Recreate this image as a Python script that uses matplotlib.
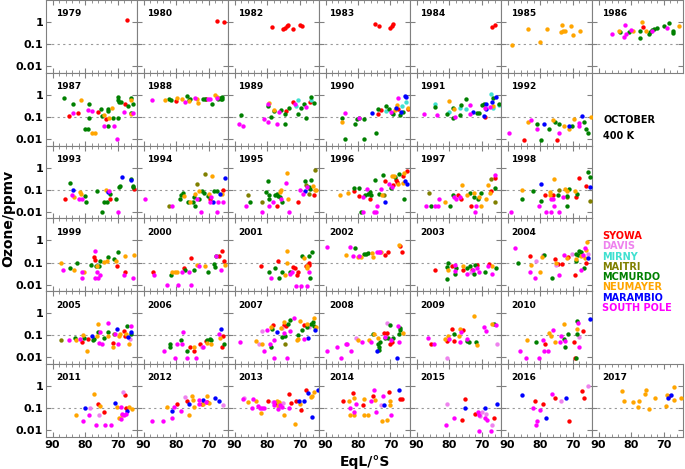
import matplotlib
matplotlib.use('Agg')
import matplotlib.pyplot as plt
from matplotlib.ticker import MultipleLocator, LogLocator, NullFormatter

plt.rcParams['font.family'] = 'DejaVu Sans'
plt.rcParams['font.weight'] = 'bold'

STATIONS = ['SYOWA', 'DAVIS', 'MIRNY', 'MAITRI', 'MCMURDO', 'NEUMAYER', 'MARAMBIO', 'SOUTH POLE']
CODES = ['S', 'D', 'M', 'I', 'C', 'N', 'B', 'P']
COLORS = ['#ff0000', '#ee82ee', '#40e0d0', '#808000', '#008000', '#ffa500', '#0000ff', '#ff00ff']

# (station code, EqL in degrees S, ozone ppmv) per October
P1979 = [('S', 67.0, 1.19)]
P1980 = [('S', 67.4, 1.1), ('S', 65.1, 0.97)]
P1982 = [('S', 78.6, 0.57), ('S', 75.2, 0.46), ('S', 74.5, 0.53), ('S', 74.0, 0.63), ('S', 73.4, 0.76),
         ('S', 71.9, 0.51), ('S', 69.7, 0.73), ('S', 69.3, 0.63)]
P1983 = [('S', 74.9, 0.84), ('S', 73.5, 0.63), ('S', 70.0, 0.55), ('S', 69.6, 0.68), ('S', 69.3, 0.78)]
P1984 = [('S', 66.8, 0.57), ('S', 65.7, 0.76)]
P1985 = [('N', 88.5, 0.09), ('N', 83.6, 0.46), ('N', 80.1, 0.12), ('N', 77.7, 0.46), ('N', 73.2, 0.70),
         ('N', 73.4, 0.34), ('N', 72.8, 0.39), ('N', 72.2, 0.38), ('N', 70.6, 0.63), ('N', 69.8, 0.27),
         ('N', 67.7, 0.40)]
P1986 = [('P', 85.8, 0.28), ('C', 83.4, 0.34), ('N', 83.8, 0.39), ('P', 81.7, 0.76), ('P', 82.3, 0.20),
         ('P', 81.6, 0.30), ('C', 80.5, 0.36), ('P', 80.1, 0.45), ('N', 79.3, 0.39), ('C', 77.2, 0.40),
         ('N', 76.7, 1.0), ('S', 76.4, 0.59), ('N', 75.5, 0.39), ('C', 77.1, 0.18), ('C', 74.5, 0.28),
         ('C', 74.1, 0.36), ('C', 73.5, 0.45), ('C', 72.9, 0.50), ('C', 72.1, 0.55), ('P', 73.6, 0.39),
         ('P', 68.9, 0.52), ('C', 69.8, 0.68), ('C', 68.4, 0.87), ('C', 67.1, 0.39), ('C', 67.1, 0.32),
         ('N', 65.2, 0.68)]
P1987 = [('C', 86.6, 0.74), ('S', 84.9, 0.105), ('C', 83.8, 0.37), ('P', 83.6, 0.15), ('S', 82.3, 0.15),
         ('N', 81.2, 0.58), ('C', 80.0, 0.029), ('C', 79.2, 0.029), ('P', 79.2, 0.20), ('C', 78.7, 0.37),
         ('C', 78.7, 0.089), ('P', 77.8, 0.18), ('N', 77.8, 0.019), ('N', 77.0, 0.019), ('C', 75.2, 0.22),
         ('S', 75.9, 0.17), ('N', 74.3, 0.12), ('C', 74.9, 0.11), ('P', 74.3, 0.039), ('S', 73.5, 0.08),
         ('C', 73.0, 0.22), ('C', 72.8, 0.18), ('N', 72.5, 0.09), ('C', 72.8, 0.039), ('N', 71.6, 0.25),
         ('C', 71.4, 0.089), ('P', 71.0, 0.039), ('P', 70.1, 0.0095), ('C', 69.9, 0.77), ('C', 69.8, 0.56),
         ('C', 69.9, 0.09), ('C', 69.5, 0.47), ('C', 69.0, 0.47), ('S', 67.7, 0.38), ('P', 68.0, 0.17),
         ('C', 66.8, 0.30), ('C', 65.9, 0.72), ('N', 65.8, 0.56), ('C', 65.2, 0.40), ('P', 65.2, 0.15),
         ('N', 65.8, 0.13), ('C', 65.7, 0.15)]
P1988 = [('P', 87.4, 0.60), ('N', 83.3, 0.60), ('C', 82.2, 0.62), ('C', 81.5, 0.58), ('S', 80.0, 0.51),
         ('N', 79.7, 0.74), ('C', 76.5, 0.85), ('N', 78.1, 0.65), ('P', 77.1, 0.46), ('C', 76.1, 0.56),
         ('C', 75.7, 0.62), ('N', 75.9, 0.51), ('P', 74.1, 0.74), ('N', 73.6, 0.65), ('N', 73.2, 0.44),
         ('C', 71.8, 0.62), ('C', 71.2, 0.62), ('S', 70.8, 0.62), ('P', 70.3, 0.62), ('P', 69.6, 0.62),
         ('C', 68.9, 0.37), ('N', 68.0, 0.95), ('P', 67.5, 0.72), ('N', 67.3, 0.80), ('C', 67.0, 0.62),
         ('C', 66.6, 0.72), ('C', 66.1, 0.62), ('C', 65.7, 0.80), ('C', 65.7, 0.62)]
P1989 = [('C', 88.1, 0.117), ('P', 88.5, 0.049), ('P', 87.5, 0.039), ('P', 80.8, 0.08), ('P', 79.6, 0.06),
         ('C', 79.8, 0.30), ('P', 79.8, 0.38), ('N', 79.3, 0.44), ('C', 78.8, 0.098), ('N', 78.0, 0.20),
         ('C', 77.9, 0.18), ('P', 76.9, 0.049), ('P', 76.3, 0.16), ('C', 75.6, 0.20), ('C', 74.5, 0.135),
         ('C', 74.6, 0.049), ('S', 74.3, 0.18), ('C', 73.1, 0.25), ('S', 72.0, 0.47), ('P', 71.5, 0.39),
         ('M', 71.0, 0.31), ('M', 70.4, 0.58), ('C', 70.4, 0.14), ('C', 69.5, 0.25), ('C', 68.5, 0.39),
         ('P', 67.9, 0.28), ('C', 67.9, 0.088), ('C', 66.6, 0.80), ('S', 66.7, 0.49), ('M', 66.4, 0.60),
         ('C', 65.5, 0.41)]
P1990 = [('P', 83.9, 0.15), ('N', 85.0, 0.06), ('C', 84.8, 0.088), ('C', 83.9, 0.0098), ('C', 80.9, 0.049),
         ('C', 80.4, 0.08), ('C', 79.8, 0.088), ('P', 79.8, 0.094), ('C', 78.1, 0.0098), ('C', 78.3, 0.083),
         ('B', 75.6, 0.15), ('C', 74.6, 0.019), ('S', 73.9, 0.14), ('C', 73.9, 0.24), ('S', 73.0, 0.20),
         ('M', 71.5, 0.18), ('C', 71.5, 0.32), ('C', 70.4, 0.24), ('P', 69.7, 0.17), ('C', 69.6, 0.15),
         ('C', 69.1, 0.13), ('N', 68.5, 0.20), ('N', 68.1, 0.36), ('B', 68.4, 0.25), ('S', 67.6, 0.22),
         ('P', 67.8, 0.70), ('C', 67.0, 0.117), ('B', 66.7, 0.17), ('C', 66.1, 0.17), ('M', 66.4, 0.32),
         ('M', 65.1, 0.49), ('B', 65.6, 0.92), ('B', 65.1, 0.80), ('S', 64.7, 0.22), ('N', 64.7, 0.26)]
P1991 = [('P', 87.7, 0.14), ('P', 83.7, 0.117), ('M', 84.2, 0.40), ('C', 84.3, 0.27), ('N', 79.9, 0.51),
         ('C', 80.6, 0.14), ('M', 80.1, 0.17), ('C', 78.7, 0.26), ('N', 78.6, 0.22), ('C', 78.8, 0.09),
         ('P', 78.1, 0.096), ('M', 76.7, 0.26), ('C', 76.4, 0.34), ('C', 76.5, 0.117), ('M', 74.9, 0.24),
         ('C', 74.7, 0.62), ('P', 73.5, 0.35), ('P', 73.5, 0.13), ('B', 72.6, 0.16), ('C', 71.3, 0.155),
         ('C', 70.9, 0.155), ('C', 69.7, 0.34), ('P', 69.0, 0.26), ('C', 69.1, 0.37), ('B', 68.7, 0.40),
         ('B', 68.5, 0.23), ('B', 69.2, 0.11), ('S', 68.9, 0.096), ('M', 67.2, 1.15), ('C', 66.6, 0.69),
         ('B', 66.8, 0.46), ('N', 66.5, 0.30), ('P', 67.4, 0.28), ('M', 66.4, 0.26), ('B', 65.5, 0.79),
         ('M', 64.6, 0.34), ('C', 64.7, 0.38)]
P1992 = [('P', 89.6, 0.019), ('N', 83.6, 0.06), ('P', 82.9, 0.073), ('S', 84.8, 0.0092), ('C', 80.9, 0.049),
         ('P', 80.9, 0.029), ('C', 79.6, 0.0092), ('B', 78.9, 0.049), ('C', 77.1, 0.029), ('N', 75.9, 0.073),
         ('C', 75.4, 0.06), ('S', 74.8, 0.0092), ('P', 74.3, 0.019), ('C', 74.2, 0.049), ('N', 72.5, 0.039),
         ('N', 71.0, 0.029), ('B', 71.0, 0.039), ('C', 70.2, 0.039), ('N', 69.5, 0.08), ('P', 68.1, 0.052),
         ('P', 68.0, 0.039), ('B', 67.2, 0.11), ('C', 66.6, 0.06), ('C', 65.8, 0.029), ('C', 65.3, 0.019),
         ('N', 64.3, 0.096)]
P1993 = [('C', 84.6, 0.20), ('S', 86.2, 0.039), ('B', 83.8, 0.097), ('P', 84.0, 0.057), ('N', 83.4, 0.046),
         ('N', 81.5, 0.079), ('N', 81.1, 0.066), ('P', 81.9, 0.039), ('P', 81.0, 0.039), ('C', 80.0, 0.05),
         ('C', 79.7, 0.028), ('C', 76.4, 0.087), ('C', 74.8, 0.0093), ('C', 74.2, 0.028), ('C', 73.1, 0.028),
         ('N', 73.5, 0.10), ('B', 72.8, 0.08), ('P', 72.5, 0.09), ('C', 72.3, 0.066), ('S', 72.3, 0.039),
         ('C', 70.6, 0.039), ('P', 69.9, 0.0095), ('C', 69.5, 0.13), ('C', 69.2, 0.145), ('B', 68.5, 0.38),
         ('B', 65.9, 0.27), ('C', 65.8, 0.31), ('C', 65.1, 0.14), ('S', 65.0, 0.11), ('C', 65.2, 0.13)]
P1994 = [('P', 89.5, 0.039), ('I', 82.3, 0.019), ('P', 81.2, 0.019), ('C', 78.8, 0.039), ('C', 78.5, 0.057),
         ('C', 77.9, 0.07), ('N', 77.5, 0.05), ('C', 76.2, 0.028), ('N', 75.7, 0.028), ('C', 74.9, 0.028),
         ('I', 73.6, 0.175), ('C', 74.2, 0.019), ('C', 74.4, 0.046), ('N', 74.2, 0.066), ('P', 73.6, 0.039),
         ('N', 72.9, 0.087), ('C', 72.9, 0.039), ('C', 72.1, 0.087), ('P', 72.3, 0.0095), ('C', 71.4, 0.07),
         ('I', 71.2, 0.53), ('C', 70.2, 0.05), ('N', 69.9, 0.066), ('P', 69.4, 0.028), ('S', 69.6, 0.039),
         ('P', 69.2, 0.046), ('N', 69.0, 0.43), ('C', 68.3, 0.087), ('B', 68.5, 0.028), ('C', 67.5, 0.09),
         ('P', 67.1, 0.028), ('P', 67.5, 0.0095), ('B', 66.4, 0.066), ('N', 66.0, 0.066), ('S', 65.4, 0.10),
         ('P', 65.5, 0.028), ('B', 64.8, 0.35)]
P1995 = [('I', 85.7, 0.059), ('C', 85.1, 0.028), ('P', 86.4, 0.019), ('P', 81.6, 0.0096), ('I', 81.5, 0.028),
         ('C', 79.6, 0.24), ('C', 80.3, 0.079), ('C', 79.3, 0.057), ('P', 79.4, 0.019), ('C', 79.5, 0.039),
         ('P', 78.3, 0.028), ('C', 77.6, 0.059), ('C', 77.0, 0.066), ('C', 76.5, 0.05), ('C', 76.0, 0.046),
         ('N', 75.8, 0.10), ('N', 76.0, 0.079), ('C', 75.5, 0.028), ('P', 75.6, 0.039), ('S', 76.8, 0.019),
         ('N', 73.8, 0.59), ('P', 74.2, 0.21), ('N', 73.6, 0.039), ('P', 73.1, 0.0096), ('S', 70.4, 0.028),
         ('P', 69.8, 0.1), ('C', 68.2, 0.24), ('I', 68.0, 0.16), ('B', 68.2, 0.087), ('P', 68.9, 0.066),
         ('P', 67.7, 0.13), ('C', 67.2, 0.13), ('C', 66.6, 0.28), ('I', 65.3, 0.78), ('N', 65.7, 0.14),
         ('N', 65.3, 0.1), ('N', 64.8, 0.1), ('I', 67.0, 0.066), ('C', 66.8, 0.11), ('S', 65.5, 0.059)]
P1996 = [('N', 85.5, 0.059), ('N', 83.0, 0.07), ('S', 81.2, 0.087), ('C', 81.2, 0.115), ('C', 79.7, 0.115),
         ('S', 79.6, 0.05), ('C', 79.2, 0.0096), ('P', 78.4, 0.0096), ('P', 78.4, 0.046), ('C', 77.8, 0.059),
         ('S', 76.3, 0.039), ('C', 77.0, 0.066), ('C', 76.3, 0.079), ('P', 77.2, 0.11), ('C', 76.0, 0.059),
         ('C', 74.8, 0.27), ('P', 75.2, 0.0096), ('P', 74.5, 0.0096), ('P', 74.3, 0.019), ('P', 72.8, 0.11),
         ('C', 73.6, 0.066), ('N', 72.6, 0.059), ('C', 72.2, 0.45), ('S', 71.7, 0.24), ('B', 71.6, 0.028),
         ('I', 72.0, 0.059), ('P', 70.4, 0.19), ('C', 69.7, 0.12), ('S', 69.2, 0.16), ('P', 69.4, 0.13),
         ('N', 69.5, 0.44), ('N', 68.9, 0.41), ('C', 68.6, 0.38), ('S', 68.2, 0.28), ('S', 68.0, 0.22),
         ('C', 67.4, 0.50), ('N', 67.7, 0.19), ('S', 66.3, 0.44), ('N', 65.7, 0.56), ('S', 64.9, 0.73),
         ('B', 65.6, 0.24), ('B', 64.9, 0.19), ('N', 66.0, 0.20), ('C', 65.9, 0.039)]
P1997 = [('I', 86.3, 0.068), ('P', 87.0, 0.019), ('C', 85.4, 0.019), ('P', 84.2, 0.019), ('P', 83.4, 0.019),
         ('P', 83.1, 0.039), ('N', 81.2, 0.028), ('C', 79.7, 0.019), ('C', 78.8, 0.057), ('P', 78.5, 0.045),
         ('P', 77.9, 0.036), ('S', 77.1, 0.057), ('P', 76.6, 0.048), ('S', 76.3, 0.036), ('N', 75.9, 0.16),
         ('N', 74.4, 0.055), ('C', 73.5, 0.068), ('N', 72.4, 0.068), ('C', 72.3, 0.048), ('S', 73.2, 0.019),
         ('P', 71.6, 0.019), ('P', 72.0, 0.0094), ('N', 70.8, 0.048), ('C', 71.2, 0.036), ('N', 70.3, 0.019),
         ('C', 70.3, 0.068), ('N', 68.5, 0.039), ('N', 67.9, 0.17), ('N', 67.5, 0.068), ('S', 67.2, 0.087),
         ('I', 67.2, 0.30), ('C', 65.7, 0.12), ('P', 65.9, 0.45), ('S', 65.8, 0.35), ('I', 66.0, 0.028)]
P1998 = [('P', 88.8, 0.0096), ('N', 85.6, 0.10), ('C', 85.4, 0.039), ('C', 82.2, 0.087), ('B', 79.7, 0.18),
         ('C', 79.6, 0.03), ('P', 80.3, 0.019), ('S', 78.4, 0.059), ('P', 78.1, 0.0096), ('N', 76.8, 0.079),
         ('N', 76.9, 0.059), ('P', 76.6, 0.039), ('P', 76.1, 0.039), ('S', 76.1, 0.059), ('N', 75.8, 0.31),
         ('P', 76.6, 0.0096), ('P', 75.8, 0.019), ('C', 74.6, 0.059), ('I', 74.3, 0.097), ('P', 74.2, 0.0096),
         ('P', 73.0, 0.046), ('C', 71.8, 0.05), ('C', 71.1, 0.11), ('N', 72.3, 0.11), ('N', 71.6, 0.09),
         ('I', 71.8, 0.046), ('C', 71.7, 0.019), ('N', 69.3, 0.087), ('S', 69.0, 0.046), ('C', 68.6, 0.066),
         ('S', 68.0, 0.34), ('S', 65.8, 0.15), ('C', 65.2, 0.66), ('B', 64.7, 0.13), ('C', 64.6, 0.36),
         ('I', 64.7, 0.03)]
P1999 = [('N', 87.3, 0.096), ('P', 86.9, 0.048), ('C', 84.6, 0.057), ('C', 82.6, 0.10), ('N', 83.5, 0.048),
         ('P', 81.0, 0.036), ('N', 80.3, 0.036), ('P', 80.9, 0.0194), ('C', 78.2, 0.078), ('S', 77.1, 0.175),
         ('S', 76.9, 0.13), ('P', 76.9, 0.34), ('P', 76.9, 0.0194), ('C', 76.7, 0.066), ('P', 75.9, 0.0194),
         ('P', 76.2, 0.037), ('N', 76.4, 0.066), ('P', 75.4, 0.027), ('C', 75.4, 0.12), ('C', 75.6, 0.066),
         ('C', 72.9, 0.175), ('N', 74.1, 0.11), ('N', 73.3, 0.12), ('C', 71.0, 0.137), ('N', 70.6, 0.12),
         ('S', 70.1, 0.068), ('C', 69.9, 0.30), ('P', 68.1, 0.028), ('S', 67.6, 0.039), ('N', 67.7, 0.19),
         ('N', 64.9, 0.23), ('P', 65.1, 0.0194)]
P2000 = [('S', 87.2, 0.039), ('P', 86.8, 0.028), ('C', 81.4, 0.028), ('N', 81.3, 0.039), ('N', 80.3, 0.039),
         ('N', 79.8, 0.036), ('P', 82.9, 0.0091), ('P', 79.3, 0.0091), ('S', 77.4, 0.057), ('C', 77.3, 0.048),
         ('P', 78.3, 0.039), ('P', 76.0, 0.039), ('S', 75.3, 0.168), ('P', 75.4, 0.0091), ('C', 74.4, 0.048),
         ('N', 73.6, 0.078), ('P', 72.8, 0.07), ('N', 71.1, 0.07), ('C', 70.3, 0.039), ('C', 68.3, 0.087),
         ('C', 68.0, 0.06), ('P', 67.7, 0.20), ('C', 67.7, 0.2), ('S', 66.9, 0.19), ('S', 66.0, 0.35),
         ('P', 66.3, 0.048), ('S', 65.2, 0.12), ('N', 64.9, 0.075)]
P2001 = [('S', 82.0, 0.066), ('C', 79.4, 0.039), ('P', 78.7, 0.019), ('C', 77.5, 0.057), ('S', 76.6, 0.12),
         ('C', 76.4, 0.019), ('C', 75.4, 0.039), ('N', 74.0, 0.33), ('N', 73.9, 0.097), ('P', 73.0, 0.031),
         ('C', 72.9, 0.039), ('P', 72.3, 0.039), ('S', 72.1, 0.06), ('S', 71.3, 0.057), ('N', 74.4, 0.028),
         ('P', 71.2, 0.009), ('P', 69.4, 0.009), ('P', 67.8, 0.009), ('S', 70.8, 0.028), ('S', 70.4, 0.039),
         ('C', 69.3, 0.19), ('N', 68.6, 0.163), ('S', 68.0, 0.066), ('N', 67.6, 0.057), ('C', 67.2, 0.19),
         ('S', 67.1, 0.10), ('C', 66.3, 0.30), ('P', 67.0, 0.039), ('C', 66.9, 0.019), ('N', 67.6, 0.073),
         ('S', 67.2, 0.078)]
P2002 = [('P', 89.6, 0.53), ('N', 83.8, 0.22), ('P', 82.5, 0.53), ('C', 80.9, 0.47), ('P', 81.5, 0.20),
         ('N', 80.1, 0.18), ('P', 79.8, 0.19), ('N', 79.2, 0.17), ('C', 78.1, 0.25), ('C', 77.5, 0.25),
         ('C', 77.0, 0.27), ('N', 75.7, 0.26), ('N', 75.3, 0.18), ('P', 74.3, 0.29), ('P', 73.6, 0.30),
         ('N', 72.8, 0.29), ('S', 71.7, 0.23), ('S', 70.7, 0.29), ('N', 67.4, 0.60), ('S', 67.1, 0.56),
         ('S', 66.4, 0.29), ('P', 73.1, 0.30)]
P2003 = [('S', 84.2, 0.048), ('N', 80.4, 0.048), ('C', 80.6, 0.064), ('C', 80.2, 0.096), ('C', 80.6, 0.0187),
         ('S', 79.0, 0.068), ('C', 78.2, 0.029), ('P', 78.2, 0.041), ('C', 78.0, 0.059), ('P', 78.2, 0.076),
         ('S', 75.8, 0.048), ('N', 75.6, 0.068), ('C', 74.6, 0.059), ('P', 74.4, 0.029), ('C', 73.5, 0.068),
         ('S', 73.0, 0.048), ('D', 73.2, 0.038), ('C', 72.4, 0.029), ('P', 72.5, 0.048), ('C', 71.9, 0.076),
         ('S', 71.3, 0.076), ('P', 71.4, 0.059), ('P', 70.8, 0.039), ('C', 68.9, 0.038), ('S', 67.7, 0.09),
         ('P', 67.9, 0.068), ('P', 66.7, 0.029), ('N', 66.7, 0.068), ('C', 65.5, 0.057)]
P2004 = [('P', 87.6, 0.45), ('C', 86.7, 0.097), ('S', 83.2, 0.19), ('N', 82.9, 0.078), ('P', 83.1, 0.039),
         ('P', 81.4, 0.0194), ('D', 81.3, 0.12), ('N', 80.0, 0.039), ('N', 79.5, 0.175), ('D', 79.2, 0.21),
         ('C', 78.7, 0.21), ('C', 76.2, 0.0194), ('S', 75.4, 0.147), ('D', 75.2, 0.078), ('N', 75.1, 0.10),
         ('S', 74.6, 0.088), ('P', 74.1, 0.027), ('S', 73.2, 0.088), ('P', 72.6, 0.21), ('N', 71.8, 0.165),
         ('S', 71.4, 0.175), ('D', 70.3, 0.25), ('S', 69.2, 0.028), ('C', 69.0, 0.12), ('N', 69.0, 0.14),
         ('C', 68.8, 0.24), ('C', 68.0, 0.32), ('C', 68.4, 0.21), ('P', 67.5, 0.048), ('N', 67.3, 0.19),
         ('P', 66.9, 0.21), ('C', 66.5, 0.057), ('N', 66.3, 0.165), ('B', 65.3, 0.165), ('S', 65.9, 0.097),
         ('N', 65.4, 0.81), ('P', 66.1, 0.45), ('N', 65.9, 0.37), ('D', 65.3, 0.24), ('C', 67.5, 0.29)]
P2005 = [('I', 87.4, 0.059), ('P', 85.0, 0.059), ('N', 82.7, 0.059), ('C', 83.1, 0.078), ('P', 81.5, 0.07),
         ('N', 80.7, 0.10), ('C', 80.3, 0.078), ('S', 81.0, 0.048), ('S', 79.0, 0.066), ('N', 79.3, 0.019),
         ('B', 77.9, 0.09), ('C', 77.6, 0.059), ('C', 77.1, 0.07), ('N', 76.4, 0.09), ('C', 75.9, 0.14),
         ('N', 76.0, 0.34), ('P', 75.4, 0.14), ('P', 75.7, 0.046), ('P', 74.7, 0.039), ('C', 74.3, 0.078),
         ('N', 73.0, 0.09), ('P', 73.0, 0.36), ('C', 72.8, 0.14), ('S', 71.4, 0.046), ('N', 71.5, 0.029),
         ('I', 71.0, 0.11), ('P', 70.7, 0.12), ('B', 70.3, 0.19), ('P', 69.7, 0.039), ('N', 69.4, 0.09),
         ('N', 69.2, 0.11), ('S', 67.9, 0.157), ('S', 67.7, 0.09), ('N', 67.3, 0.12), ('C', 67.1, 0.255),
         ('B', 66.7, 0.084), ('N', 66.5, 0.039), ('D', 66.1, 0.068), ('P', 65.7, 0.27), ('C', 65.8, 0.11),
         ('B', 65.7, 0.137)]
P2006 = [('P', 83.7, 0.019), ('C', 81.9, 0.039), ('C', 81.8, 0.029), ('P', 80.3, 0.0097), ('P', 79.6, 0.039),
         ('C', 78.4, 0.059), ('P', 78.2, 0.039), ('P', 77.9, 0.147), ('C', 76.7, 0.019), ('P', 76.6, 0.0097),
         ('S', 75.7, 0.029), ('S', 74.6, 0.02), ('N', 74.5, 0.029), ('P', 73.8, 0.0097), ('S', 72.6, 0.039),
         ('D', 71.9, 0.029), ('P', 71.6, 0.029), ('S', 70.8, 0.055), ('N', 70.6, 0.046), ('C', 70.6, 0.063),
         ('C', 69.6, 0.068), ('N', 69.2, 0.039), ('C', 69.2, 0.059), ('P', 66.7, 0.11), ('B', 66.1, 0.187),
         ('N', 66.4, 0.078), ('S', 65.6, 0.097), ('S', 66.0, 0.029), ('C', 65.1, 0.039)]
P2007 = [('P', 88.2, 0.048), ('N', 83.3, 0.057), ('D', 82.5, 0.039), ('N', 81.5, 0.039), ('P', 80.9, 0.019),
         ('D', 81.4, 0.157), ('P', 80.1, 0.17), ('P', 79.2, 0.039), ('C', 78.7, 0.029), ('S', 78.3, 0.28),
         ('N', 78.8, 0.24), ('C', 78.6, 0.185), ('B', 77.0, 0.14), ('P', 77.7, 0.0097), ('P', 77.8, 0.063),
         ('N', 75.7, 0.21), ('D', 75.5, 0.22), ('C', 75.4, 0.084), ('P', 74.8, 0.128), ('I', 74.4, 0.039),
         ('C', 74.6, 0.09), ('N', 74.7, 0.40), ('S', 74.8, 0.28), ('S', 74.3, 0.255), ('C', 73.6, 0.32),
         ('C', 73.0, 0.52), ('P', 73.8, 0.0097), ('P', 72.8, 0.157), ('P', 71.8, 0.59), ('C', 70.5, 0.107),
         ('N', 70.9, 0.059), ('N', 70.4, 0.068), ('N', 69.8, 0.45), ('C', 69.2, 0.17), ('B', 67.5, 0.078),
         ('P', 68.5, 0.07), ('S', 68.7, 0.30), ('N', 67.6, 0.32), ('C', 67.8, 0.24), ('C', 66.4, 0.32),
         ('C', 66.0, 0.40), ('N', 65.6, 0.61), ('B', 65.1, 0.18), ('N', 64.9, 0.24), ('C', 65.4, 0.255),
         ('D', 67.0, 0.24)]
P2008 = [('P', 89.6, 0.019), ('P', 86.6, 0.029), ('P', 85.3, 0.0097), ('P', 83.7, 0.039), ('P', 83.3, 0.039),
         ('P', 82.3, 0.019), ('D', 80.5, 0.078), ('N', 80.0, 0.059), ('P', 78.9, 0.05), ('N', 76.7, 0.059),
         ('P', 76.0, 0.048), ('C', 75.3, 0.11), ('N', 75.0, 0.11), ('N', 73.7, 0.078), ('C', 73.7, 0.039),
         ('C', 73.5, 0.029), ('C', 73.3, 0.048), ('B', 74.3, 0.02), ('C', 73.6, 0.022), ('P', 71.7, 0.087),
         ('S', 72.0, 0.133), ('S', 71.2, 0.125), ('C', 71.7, 0.078), ('C', 70.8, 0.078), ('D', 71.0, 0.35),
         ('C', 70.0, 0.30), ('S', 70.0, 0.042), ('P', 69.8, 0.063), ('S', 69.4, 0.05), ('C', 69.2, 0.078),
         ('B', 67.9, 0.0095), ('P', 67.6, 0.27), ('C', 67.1, 0.22), ('C', 67.3, 0.11), ('P', 67.3, 0.048),
         ('N', 66.0, 0.125), ('C', 67.1, 0.17)]
P2009 = [('P', 86.5, 0.078), ('S', 85.6, 0.039), ('P', 84.7, 0.039), ('D', 80.6, 0.0093), ('N', 81.2, 0.068),
         ('N', 80.2, 0.097), ('S', 80.6, 0.055), ('P', 80.0, 0.066), ('S', 78.6, 0.055), ('S', 79.2, 0.19),
         ('C', 78.4, 0.12), ('N', 77.0, 0.097), ('N', 76.6, 0.20), ('P', 76.4, 0.14), ('S', 75.6, 0.168),
         ('P', 76.5, 0.048), ('P', 74.4, 0.066), ('C', 74.5, 0.055), ('C', 73.7, 0.048), ('N', 72.3, 0.76),
         ('C', 71.8, 0.048), ('N', 71.5, 0.038), ('P', 69.1, 0.23), ('P', 68.7, 0.157), ('N', 66.7, 0.34),
         ('C', 66.2, 0.33), ('P', 65.6, 0.30), ('D', 65.2, 0.039)]
P2010 = [('P', 86.1, 0.019), ('P', 84.4, 0.0097), ('N', 84.1, 0.059), ('C', 81.2, 0.048), ('P', 80.3, 0.0097),
         ('S', 78.6, 0.039), ('P', 79.0, 0.059), ('P', 78.8, 0.019), ('P', 77.6, 0.019), ('N', 77.1, 0.13),
         ('N', 76.6, 0.09), ('P', 76.0, 0.17), ('N', 75.4, 0.048), ('P', 73.8, 0.048), ('P', 73.6, 0.09),
         ('N', 72.7, 0.34), ('C', 72.7, 0.066), ('P', 72.3, 0.057), ('C', 72.2, 0.029), ('C', 71.5, 0.117),
         ('S', 69.4, 0.048), ('S', 69.2, 0.0097), ('C', 68.9, 0.0097), ('C', 68.7, 0.45), ('N', 68.5, 0.19),
         ('C', 68.6, 0.117), ('P', 68.2, 0.36), ('D', 68.0, 0.087), ('P', 67.9, 0.029), ('S', 66.9, 0.157),
         ('B', 64.6, 0.53)]
P2011 = [('N', 82.9, 0.047), ('P', 80.5, 0.027), ('B', 80.0, 0.104), ('D', 78.5, 0.104), ('P', 78.7, 0.047),
         ('N', 77.1, 0.43), ('S', 76.1, 0.157), ('N', 75.4, 0.124), ('D', 75.6, 0.047), ('P', 76.6, 0.018),
         ('S', 74.3, 0.066), ('P', 74.0, 0.018), ('P', 72.0, 0.018), ('B', 70.8, 0.168), ('N', 70.2, 0.118),
         ('P', 68.9, 0.11), ('N', 69.4, 0.037), ('N', 68.7, 0.047), ('P', 68.7, 0.055), ('D', 68.4, 0.52),
         ('S', 67.6, 0.38), ('S', 67.4, 0.104), ('N', 66.4, 0.11), ('N', 65.5, 0.09), ('P', 68.0, 0.05),
         ('B', 67.1, 0.073), ('P', 67.4, 0.055), ('P', 68.8, 0.033)]
P2012 = [('P', 87.4, 0.027), ('P', 83.9, 0.027), ('N', 82.7, 0.11), ('P', 81.2, 0.036), ('B', 81.2, 0.073),
         ('P', 80.7, 0.118), ('S', 79.6, 0.147), ('P', 78.4, 0.073), ('D', 77.2, 0.315), ('S', 76.6, 0.20),
         ('N', 75.9, 0.047), ('B', 75.9, 0.147), ('N', 75.2, 0.34), ('N', 74.9, 0.24), ('N', 74.5, 0.118),
         ('P', 72.9, 0.24), ('P', 73.0, 0.147), ('S', 72.1, 0.157), ('B', 71.6, 0.24), ('N', 71.6, 0.157),
         ('S', 70.6, 0.19), ('N', 70.6, 0.34), ('P', 70.8, 0.18), ('N', 69.7, 0.168), ('B', 68.0, 0.28),
         ('B', 66.8, 0.21), ('D', 65.6, 0.134)]
P2013 = [('D', 87.1, 0.28), ('P', 87.3, 0.26), ('N', 85.7, 0.19), ('P', 84.7, 0.097), ('P', 84.4, 0.26),
         ('N', 83.5, 0.21), ('P', 82.8, 0.12), ('P', 82.2, 0.097), ('N', 81.8, 0.059), ('P', 81.5, 0.097),
         ('P', 80.9, 0.097), ('S', 79.8, 0.22), ('P', 78.0, 0.18), ('D', 78.2, 0.18), ('P', 78.0, 0.137),
         ('S', 77.4, 0.147), ('N', 76.8, 0.21), ('N', 76.2, 0.19), ('P', 76.6, 0.09), ('D', 75.1, 0.168),
         ('P', 76.0, 0.137), ('P', 75.3, 0.11), ('N', 74.9, 0.048), ('N', 76.5, 0.128), ('S', 73.1, 0.42),
         ('P', 73.1, 0.104), ('N', 71.3, 0.0194), ('S', 71.2, 0.21), ('N', 69.7, 0.157), ('S', 69.6, 0.078),
         ('S', 72.7, 0.175), ('B', 70.3, 0.22), ('B', 68.6, 0.22), ('S', 68.0, 0.68), ('B', 67.4, 0.48),
         ('B', 66.1, 0.039), ('N', 66.6, 0.315), ('N', 66.1, 0.34), ('N', 65.5, 0.55), ('B', 64.3, 0.64)]
P2014 = [('S', 84.7, 0.20), ('N', 82.9, 0.22), ('P', 82.4, 0.104), ('S', 81.5, 0.48), ('N', 81.2, 0.295),
         ('N', 82.6, 0.047), ('N', 81.2, 0.047), ('P', 81.2, 0.066), ('P', 80.6, 0.157), ('S', 78.5, 0.134),
         ('N', 78.2, 0.25), ('N', 78.3, 0.047), ('N', 76.9, 0.047), ('P', 76.0, 0.21), ('S', 75.5, 0.34),
         ('N', 74.9, 0.24), ('P', 75.2, 0.64), ('P', 74.6, 0.066), ('D', 72.9, 0.137), ('B', 72.1, 0.134),
         ('P', 72.3, 0.34), ('N', 72.5, 0.027), ('N', 70.2, 0.22), ('N', 70.2, 0.134), ('S', 70.4, 0.55),
         ('P', 69.8, 0.047), ('N', 71.0, 0.030), ('B', 67.5, 0.64), ('S', 67.1, 0.26), ('S', 66.6, 0.26)]
P2015 = [('D', 80.6, 0.147), ('P', 81.0, 0.018), ('P', 78.5, 0.037), ('S', 75.9, 0.028), ('S', 75.0, 0.25),
         ('B', 75.2, 0.104), ('S', 72.1, 0.055), ('P', 71.2, 0.066), ('D', 70.5, 0.043), ('P', 70.8, 0.047),
         ('D', 69.7, 0.068), ('B', 69.0, 0.104), ('D', 68.5, 0.055), ('P', 68.9, 0.037), ('P', 68.3, 0.028),
         ('P', 70.7, 0.009), ('P', 67.0, 0.009), ('D', 66.8, 0.018), ('S', 66.1, 0.037), ('B', 65.1, 0.147)]
P2016 = [('B', 85.5, 0.39), ('P', 82.1, 0.097), ('S', 81.4, 0.215), ('P', 80.0, 0.084), ('S', 79.0, 0.16),
         ('P', 81.0, 0.027), ('P', 81.3, 0.018), ('B', 78.1, 0.037), ('P', 76.2, 0.43), ('S', 75.4, 0.285),
         ('D', 73.6, 0.20), ('B', 72.0, 0.295), ('S', 71.0, 0.027), ('S', 67.1, 0.57), ('S', 66.6, 0.285),
         ('D', 65.3, 1.0)]
P2017 = [('N', 82.7, 0.61), ('N', 82.2, 0.22), ('N', 79.3, 0.19), ('N', 77.6, 0.22), ('N', 77.7, 0.11),
         ('N', 75.4, 0.63), ('N', 75.6, 0.42), ('N', 74.4, 0.094), ('N', 72.5, 0.275), ('N', 69.2, 0.12),
         ('N', 68.8, 0.40), ('S', 68.4, 0.35), ('B', 68.7, 0.275), ('B', 67.8, 0.40), ('N', 66.7, 0.90),
         ('N', 66.7, 0.24), ('N', 64.6, 0.30)]

LAYOUT = [
    [(1979, P1979), (1980, P1980), (1982, P1982), (1983, P1983), (1984, P1984), (1985, P1985), (1986, P1986)],
    [(1987, P1987), (1988, P1988), (1989, P1989), (1990, P1990), (1991, P1991), (1992, P1992), None],
    [(1993, P1993), (1994, P1994), (1995, P1995), (1996, P1996), (1997, P1997), (1998, P1998), None],
    [(1999, P1999), (2000, P2000), (2001, P2001), (2002, P2002), (2003, P2003), (2004, P2004), None],
    [(2005, P2005), (2006, P2006), (2007, P2007), (2008, P2008), (2009, P2009), (2010, P2010), None],
    [(2011, P2011), (2012, P2012), (2013, P2013), (2014, P2014), (2015, P2015), (2016, P2016), (2017, P2017)],
]

W, H = 685, 469
fig = plt.figure(figsize=(W / 100, H / 100), dpi=100)

left_px, col_w, top_px, row_h = 46, 91, 0, 72.8
frame = '#808080'

for r, row in enumerate(LAYOUT):
    for c, cell in enumerate(row):
        if cell is None:
            continue
        year, pts = cell
        ax = fig.add_axes([(left_px + c * col_w) / W, 1 - (top_px + (r + 1) * row_h) / H,
                           col_w / W, row_h / H])
        ax.set_yscale('log')
        ax.set_xlim(92, 64)
        ax.set_ylim(0.005, 10)
        ax.axhline(0.1, color='#999999', lw=0.8, ls=(0, (2, 3)), zorder=1)
        for code, col in zip(CODES, COLORS):
            xs = [p[1] for p in pts if p[0] == code]
            ys = [p[2] for p in pts if p[0] == code]
            if xs:
                ax.scatter(xs, ys, s=10, color=col, linewidths=0, zorder=3)
        ax.text(0.115, 0.81, str(year), transform=ax.transAxes, fontsize=6.5,
                fontweight='bold', va='center', ha='left')
        ax.set_xticks([90, 80, 70])
        ax.xaxis.set_minor_locator(MultipleLocator(2))
        ax.set_yticks([0.01, 0.1, 1])
        ax.yaxis.set_minor_locator(LogLocator(base=10, subs=range(2, 10)))
        ax.yaxis.set_minor_formatter(NullFormatter())
        ax.tick_params(which='both', direction='in', top=True, right=True, color=frame,
                       labelsize=8, pad=2)
        ax.tick_params(which='major', length=3.5, width=0.8)
        ax.tick_params(which='minor', length=2, width=0.6)
        for s in ax.spines.values():
            s.set_color(frame)
            s.set_linewidth(0.8)
        if c == 0:
            ax.set_yticklabels(['0.01', '0.1', '1'], fontweight='bold')
        else:
            ax.tick_params(labelleft=False)
        if r == 5:
            ax.set_xticklabels(['90', '80', '70'], fontweight='bold')
        else:
            ax.tick_params(labelbottom=False)

fig.text(8 / W, 1 - 218 / H, 'Ozone/ppmv', rotation=90, fontsize=10, fontweight='bold',
         ha='center', va='center')
fig.text(365 / W, 1 - 462 / H, 'EqL/°S', fontsize=10, fontweight='bold', ha='center', va='center')

fig.text(603 / W, 1 - 120 / H, 'OCTOBER', fontsize=7, fontweight='bold', ha='left', va='center')
fig.text(603 / W, 1 - 136 / H, '400 K', fontsize=7, fontweight='bold', ha='left', va='center')

for i, (name, col) in enumerate(zip(STATIONS, COLORS)):
    fig.text(602 / W, 1 - (236 + i * 10.3) / H, name, color=col, fontsize=7,
             fontweight='bold', ha='left', va='center')

fig.savefig('out.png', dpi=100)
